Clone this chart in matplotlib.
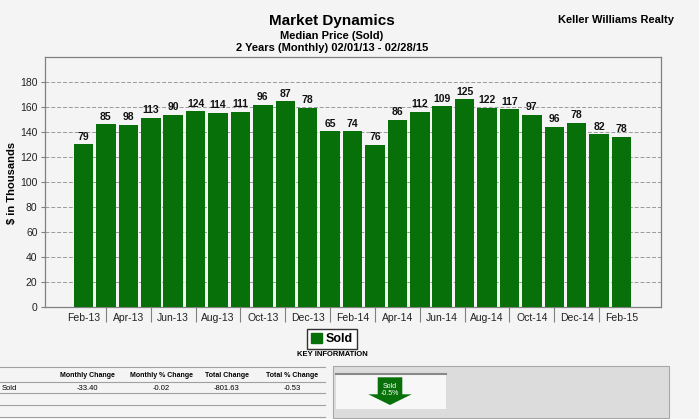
import matplotlib
matplotlib.use("Agg")
import matplotlib.pyplot as plt
from matplotlib.patches import Rectangle, Polygon, Patch
from matplotlib.lines import Line2D
import numpy as np

plt.rcParams['font.family'] = ['Liberation Sans Narrow', 'Liberation Sans', 'DejaVu Sans']

# données
months = ['Feb-13', 'Mar-13', 'Apr-13', 'May-13', 'Jun-13', 'Jul-13', 'Aug-13',
          'Sep-13', 'Oct-13', 'Nov-13', 'Dec-13', 'Jan-14', 'Feb-14', 'Mar-14',
          'Apr-14', 'May-14', 'Jun-14', 'Jul-14', 'Aug-14', 'Sep-14', 'Oct-14',
          'Nov-14', 'Dec-14', 'Jan-15', 'Feb-15']
median_price = [130, 146, 145.5, 151, 153.5, 156.5, 155, 156, 161.5, 164.5, 159,
                140.5, 140.5, 129.5, 149.5, 156, 160.5, 166, 159, 158, 153.5,
                144, 147, 138, 136]
sold_count = [79, 85, 98, 113, 90, 124, 114, 111, 96, 87, 78, 65, 74, 76, 86,
              112, 109, 125, 122, 117, 97, 96, 78, 82, 78]
y_ticks = [0, 20, 40, 60, 80, 100, 120, 140, 160, 180]

table_cols = ['Monthly Change', 'Monthly % Change', 'Total Change', 'Total % Change']
table_vals = ['-33.40', '-0.02', '-801.63', '-0.53']
table_row = 'Sold'
arrow_text = 'Sold\n-0.5%'

bg = '#f4f4f4'
green = '#087008'
W, H = 699, 419

fig = plt.figure(figsize=(W / 100, H / 100), dpi=100, facecolor=bg)

# zone du graphique
ax = fig.add_axes([44.5 / W, 1 - 307 / H, (661 - 44.5) / W, (307 - 57) / H])
ax.set_facecolor(bg)
x = np.arange(len(months))
bars = ax.bar(x, median_price, width=0.87, color=green, zorder=3)
ax.bar_label(bars, labels=[str(v) for v in sold_count], padding=2,
             fontsize=7.5, fontweight='bold', color='#111111')

ax.set_xlim(-1.74, len(months) + 0.76)
ax.set_ylim(0, 200)
ax.set_yticks(y_ticks)
ax.tick_params(axis='y', labelsize=7.5, length=3, color='#808080', pad=2,
               labelcolor='#222222')
ax.grid(axis='y', linestyle=(0, (4, 2)), color='#9a9a9a', linewidth=0.7, zorder=1)

ax.set_xticks(x[::2])
ax.set_xticklabels(months[::2], fontsize=7.5, color='#222222')
ax.set_xticks(x[1::2], minor=True)
ax.tick_params(axis='x', which='major', length=0, pad=4)
ax.tick_params(axis='x', which='minor', length=11, color='#808080', width=0.8)

for s in ax.spines.values():
    s.set_color('#808080')
    s.set_linewidth(0.9)

fig.text(12 / W, 1 - 183 / H, r'\$ in Thousands', rotation=90, ha='center',
         va='center', fontsize=8, fontweight='bold')

# titres
fig.text(332 / W, 1 - 21 / H, 'Market Dynamics', ha='center', va='center',
         fontsize=11, fontweight='bold')
fig.text(332 / W, 1 - 36 / H, 'Median Price (Sold)', ha='center', va='center',
         fontsize=8, fontweight='bold')
fig.text(332 / W, 1 - 48 / H, '2 Years (Monthly) 02/01/13 - 02/28/15', ha='center',
         va='center', fontsize=8, fontweight='bold')
fig.text(616 / W, 1 - 20 / H, 'Keller Williams Realty', ha='center', va='center',
         fontsize=8, fontweight='bold')

# légende
leg = fig.legend(handles=[Patch(color=green, label='Sold')], loc='center',
                 bbox_to_anchor=(332 / W, 1 - 339 / H), frameon=True,
                 fancybox=False, edgecolor='black', facecolor='white',
                 handlelength=0.9, handleheight=0.9, handletextpad=0.3,
                 borderpad=0.3, prop={'weight': 'bold', 'size': 9})
leg.get_frame().set_linewidth(1.0)
fig.text(332 / W, 1 - 354 / H, 'KEY INFORMATION', ha='center', va='center',
         fontsize=5.5, fontweight='bold')

# tableau et panneau du bas, en coordonnées pixels
ov = fig.add_axes([0, 0, 1, 1], zorder=-1)
ov.set_xlim(0, W)
ov.set_ylim(H, 0)
ov.axis('off')

for yl in [366.7, 381.7, 393.3, 405, 416.7]:
    ov.add_line(Line2D([0, 325], [yl, yl], color='#a0a0a0', linewidth=0.8))
col_x = [87, 161, 227, 292]
for cx, name, val in zip(col_x, table_cols, table_vals):
    ov.text(cx, 375.7, name, ha='center', va='center', fontsize=5, fontweight='bold')
    ov.text(cx, 388.7, val, ha='center', va='center', fontsize=5.5)
ov.text(2, 388.7, table_row, ha='left', va='center', fontsize=5.5)

ov.add_patch(Rectangle((333.3, 366), 335.4, 52, facecolor='#dcdcdc',
                       edgecolor='#a8a8a8', linewidth=0.8))
ov.add_patch(Rectangle((336, 373.3), 110, 36, facecolor='#f7f7f7', edgecolor='none'))
ov.add_line(Line2D([336, 446], [374, 374], color='#888888', linewidth=1.5))
ov.add_patch(Polygon([(377.7, 377.3), (402.3, 377.3), (402.3, 394.3), (411.7, 394.3),
                      (390, 405), (368.3, 394.3), (377.7, 394.3)],
                     closed=True, facecolor=green, edgecolor='none'))
ov.text(390, 389.5, arrow_text, ha='center', va='center', fontsize=5,
        color='white', linespacing=1.0)

fig.savefig('out.png', dpi=100, facecolor=bg)
